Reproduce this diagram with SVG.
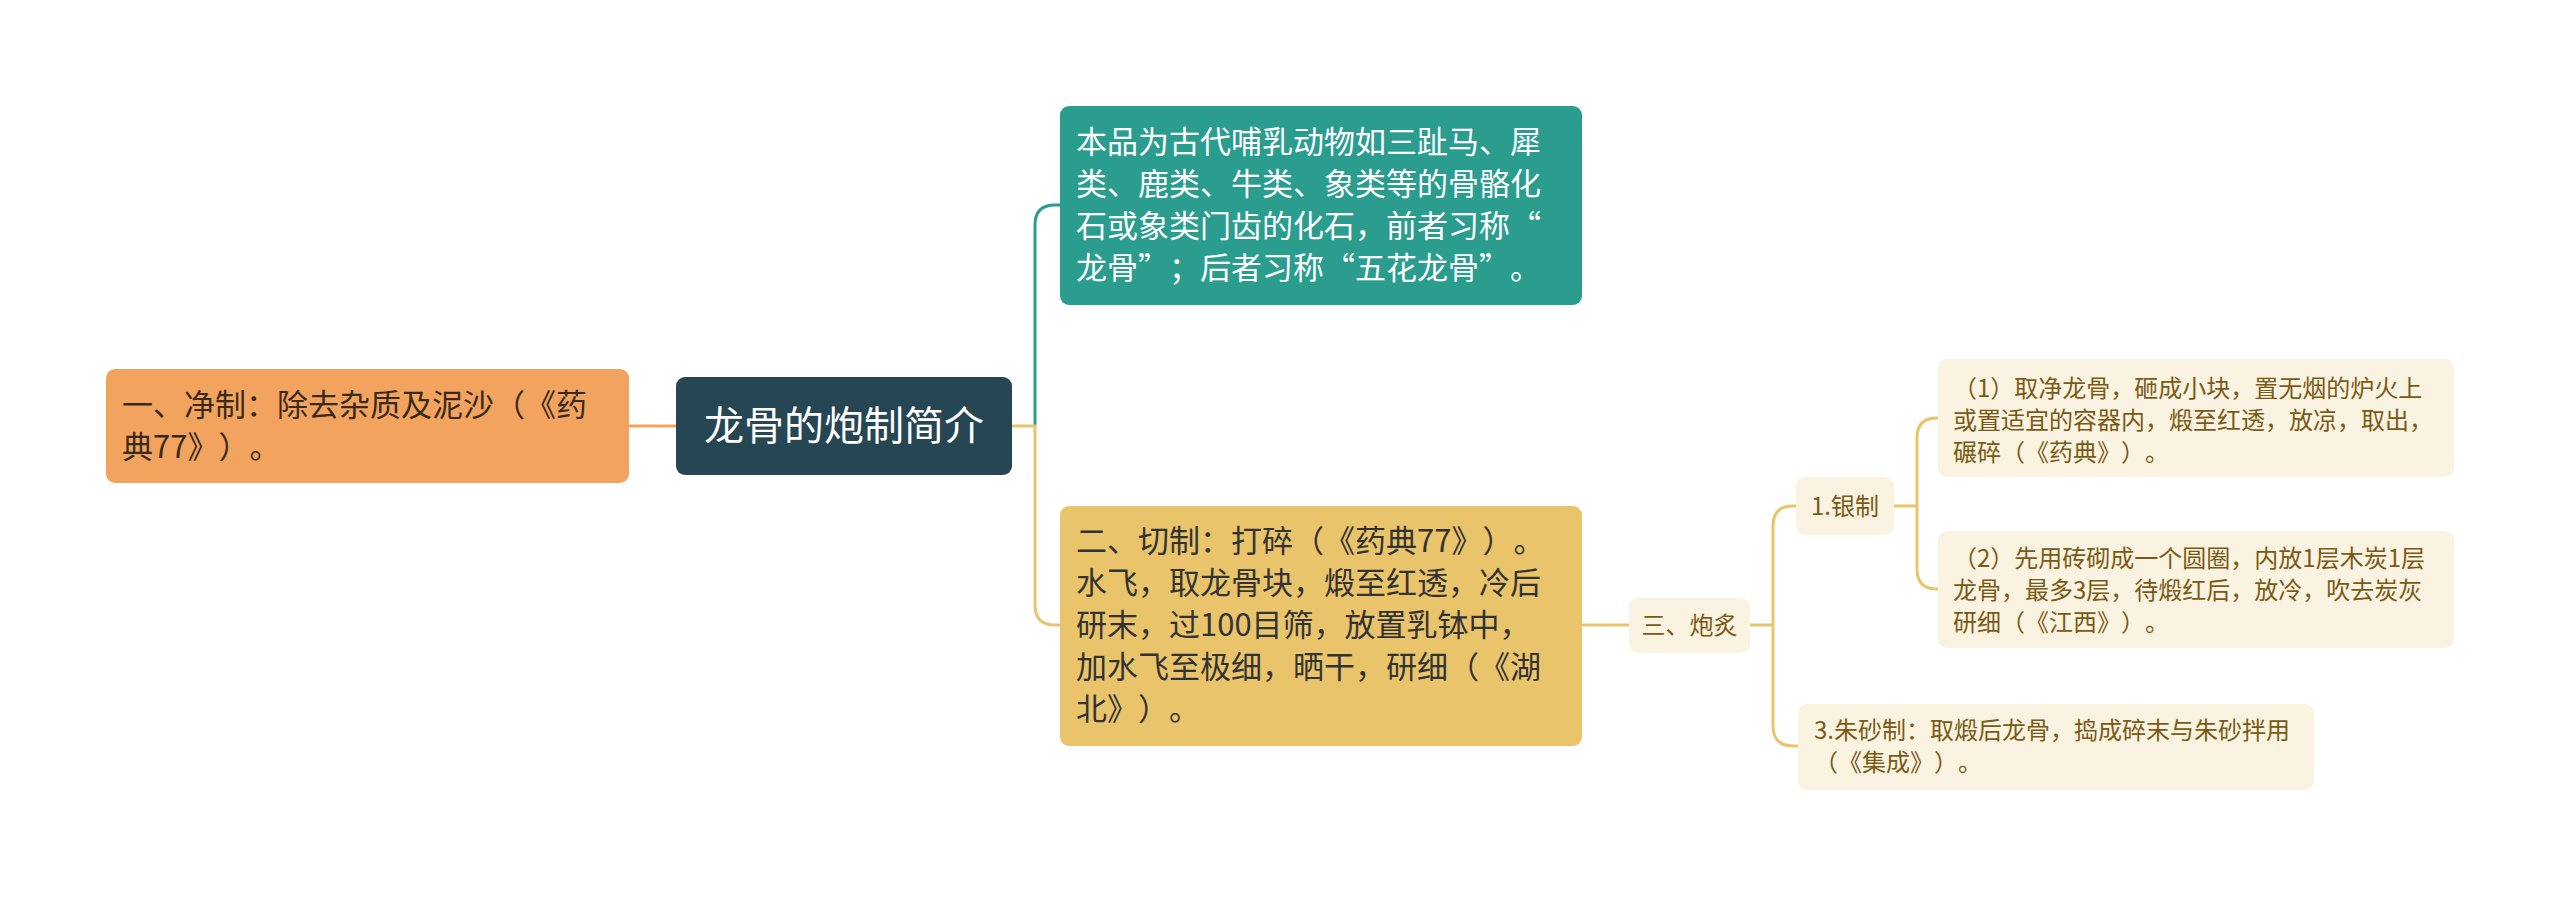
<svg xmlns="http://www.w3.org/2000/svg" width="2560" height="897" viewBox="0 0 2560 897">
<style>
.t{font-family:"Noto Sans CJK SC","Noto Sans",sans-serif;text-spacing-trim:space-all}
.big{font-size:31px}
.sm{font-size:24px;fill:#7a5a14}
.c{fill:none;stroke-width:3}
.sand{fill:#fbf3e1}
</style>
<rect width="2560" height="897" fill="#ffffff"/>
<g id="connectors">
<path class="c" stroke="#f2a35e" d="M629 426 H676"/>
<path class="c" stroke="#2a9d8f" d="M1035 426 V225 Q1035 205 1055 205 H1060"/>
<path class="c" stroke="#e9c46a" d="M1012 426 H1035 V605 Q1035 625 1055 625 H1060"/>
<path class="c" stroke="#e9c46a" d="M1582 625 H1629"/>
<path class="c" stroke="#e9c46a" d="M1750 625 H1773"/>
<path class="c" stroke="#e9c46a" d="M1773 625 V526 Q1773 506 1793 506 H1796"/>
<path class="c" stroke="#e9c46a" d="M1773 625 V726 Q1773 746 1793 746 H1798"/>
<path class="c" stroke="#e9c46a" d="M1894 506 H1917"/>
<path class="c" stroke="#e9c46a" d="M1917 506 V438 Q1917 418 1937 418 H1938"/>
<path class="c" stroke="#e9c46a" d="M1917 506 V569 Q1917 589 1937 589 H1938"/>
</g>
<g id="root">
<rect x="676" y="377" width="336" height="98" rx="9" fill="#264653"/>
<text class="t" x="844" y="440" font-size="40" fill="#ffffff" text-anchor="middle">龙骨的炮制简介</text>
</g>
<g id="n-jingzhi">
<rect x="106" y="369" width="523" height="114" rx="9" fill="#f2a35e"/>
<text class="t big" fill="#3a2a1c"><tspan x="122" y="416">一、净制：除去杂质及泥沙（《药</tspan><tspan x="122" y="458">典77》）。</tspan></text>
</g>
<g id="n-intro">
<rect x="1060" y="106" width="522" height="199" rx="9" fill="#2a9d8f"/>
<text class="t big" fill="#ffffff"><tspan x="1076" y="153">本品为古代哺乳动物如三趾马、犀</tspan><tspan x="1076" y="195">类、鹿类、牛类、象类等的骨骼化</tspan><tspan x="1076" y="237">石或象类门齿的化石，前者习称“</tspan><tspan x="1076" y="279">龙骨”；后者习称“五花龙骨”。</tspan></text>
</g>
<g id="n-qiezhi">
<rect x="1060" y="506" width="522" height="240" rx="9" fill="#e9c46a"/>
<text class="t big" fill="#333333"><tspan x="1076" y="552">二、切制：打碎（《药典77》）。</tspan><tspan x="1076" y="594">水飞，取龙骨块，煅至红透，冷后</tspan><tspan x="1076" y="636">研末，过100目筛，放置乳钵中，</tspan><tspan x="1076" y="678">加水飞至极细，晒干，研细（《湖</tspan><tspan x="1076" y="720">北》）。</tspan></text>
</g>
<g id="n-paozhi">
<rect class="sand" x="1629" y="598" width="121" height="55" rx="9"/>
<text class="t sm" x="1689.5" y="634" text-anchor="middle">三、炮炙</text>
</g>
<g id="n-yinzhi">
<rect class="sand" x="1796" y="477" width="98" height="58" rx="9"/>
<text class="t sm" x="1845" y="515" text-anchor="middle">1.银制</text>
</g>
<g id="n-d1">
<rect class="sand" x="1938" y="359" width="516" height="118" rx="9"/>
<text class="t sm"><tspan x="1953" y="397">（1）取净龙骨，砸成小块，置无烟的炉火上</tspan><tspan x="1953" y="429">或置适宜的容器内，煅至红透，放凉，取出，</tspan><tspan x="1953" y="461">碾碎（《药典》）。</tspan></text>
</g>
<g id="n-d2">
<rect class="sand" x="1938" y="531" width="516" height="117" rx="9"/>
<text class="t sm"><tspan x="1953" y="567">（2）先用砖砌成一个圆圈，内放1层木炭1层</tspan><tspan x="1953" y="599">龙骨，最多3层，待煅红后，放冷，吹去炭灰</tspan><tspan x="1953" y="631">研细（《江西》）。</tspan></text>
</g>
<g id="n-zhusha">
<rect class="sand" x="1798" y="704" width="516" height="86" rx="9"/>
<text class="t sm"><tspan x="1814" y="739">3.朱砂制：取煅后龙骨，捣成碎末与朱砂拌用</tspan><tspan x="1814" y="771">（《集成》）。</tspan></text>
</g>
</svg>
